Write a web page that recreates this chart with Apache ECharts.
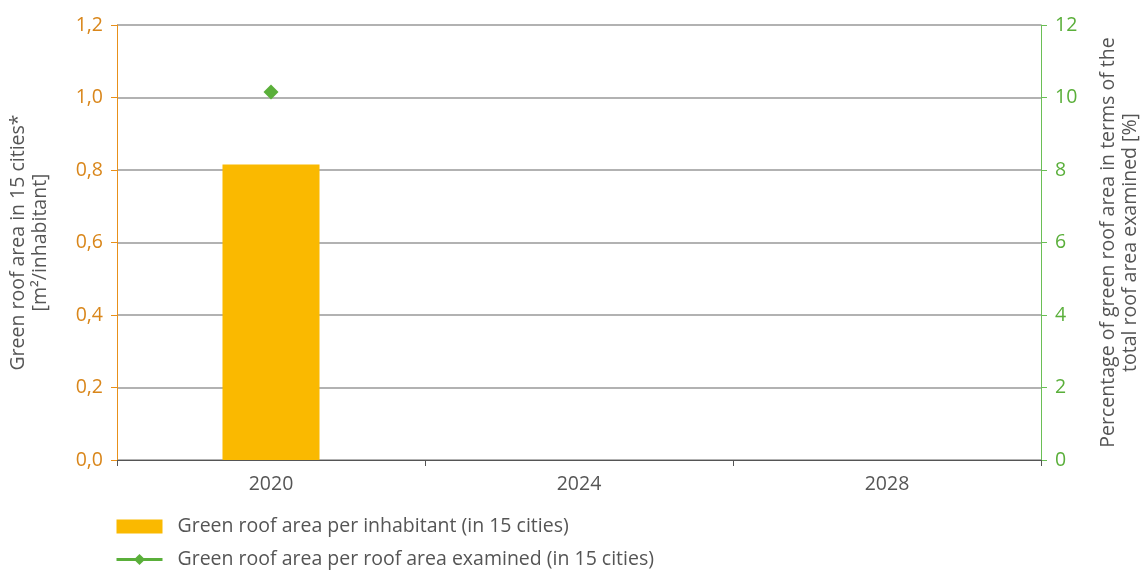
<!DOCTYPE html>
<html><head><meta charset="utf-8">
<script src="https://cdn.jsdelivr.net/npm/echarts@6/dist/echarts.min.js"></script>
<style>html,body{margin:0;padding:0;background:#fff}#c{width:1146px;height:572px}</style>
</head><body><div id="c"></div>
<script>
const categories = ['2020', '2024', '2028'];
const perInhabitant = [0.815, null, null];
const perRoofArea = [10.15, null, null];
const leftTicks = [0, 0.2, 0.4, 0.6, 0.8, 1.0, 1.2];
const rightTicks = [0, 2, 4, 6, 8, 10, 12];

const FONT = '"Open Sans", "Noto Sans", sans-serif';
const FS = 19.5;
const chart = echarts.init(document.getElementById('c'));
chart.setOption({
  animation: false,
  textStyle: { fontFamily: FONT },
  grid: { left: 117, right: 105, top: 25, bottom: 112, containLabel: false, outerBoundsMode: 'none' },
  legend: {
    orient: 'vertical', left: 115, top: 516, itemGap: 12, padding: 0,
    itemWidth: 46, itemHeight: 14,
    textStyle: { fontFamily: FONT, fontSize: FS, lineHeight: 21, color: '#555', padding: [0, 0, 0, 10] },
    data: [
      { name: 'Green roof area per inhabitant (in 15 cities)', icon: 'rect' },
      { name: 'Green roof area per roof area examined (in 15 cities)', lineStyle: { width: 3 } }
    ]
  },
  xAxis: {
    type: 'category', data: categories,
    axisLine: { lineStyle: { color: '#555', width: 1 } },
    axisTick: { show: true, length: 6, lineStyle: { color: '#555' } },
    axisLabel: { color: '#555', fontSize: FS, margin: 14, fontFamily: FONT }
  },
  yAxis: [
    {
      type: 'value', min: leftTicks[0], max: leftTicks[leftTicks.length - 1], interval: 0.2,
      name: 'Green roof area in 15 cities*\n[m²/inhabitant]',
      nameLocation: 'middle', nameRotate: 90, nameGap: 66,
      nameTextStyle: { color: '#555', fontSize: FS, lineHeight: 22, fontFamily: FONT },
      axisLine: { show: true, lineStyle: { color: '#e8901a', width: 1 } },
      axisTick: { show: true, length: 6, inside: false, lineStyle: { color: '#e8901a' } },
      axisLabel: { color: '#d9861a', fontSize: FS, margin: 14, fontFamily: FONT,
        formatter: v => v.toFixed(1).replace('.', ',') },
      splitLine: { lineStyle: { color: '#999', width: 1.5 } }
    },
    {
      type: 'value', min: rightTicks[0], max: rightTicks[rightTicks.length - 1], interval: 2,
      position: 'right',
      name: 'Percentage of green roof area in terms of the\ntotal roof area examined [%]',
      nameLocation: 'middle', nameRotate: 90, nameGap: 56,
      nameTextStyle: { color: '#555', fontSize: FS, lineHeight: 22, fontFamily: FONT },
      axisLine: { show: true, lineStyle: { color: '#6abf55', width: 1 } },
      axisTick: { show: true, length: 6, lineStyle: { color: '#6abf55' } },
      axisLabel: { color: '#5aaf3a', fontSize: FS, margin: 14, fontFamily: FONT },
      splitLine: { show: false }
    }
  ],
  series: [
    {
      name: 'Green roof area per inhabitant (in 15 cities)', type: 'bar', yAxisIndex: 0,
      data: perInhabitant, barWidth: '31.5%',
      itemStyle: { color: '#fab900' }
    },
    {
      name: 'Green roof area per roof area examined (in 15 cities)', type: 'line', yAxisIndex: 1,
      data: perRoofArea, symbol: 'diamond', symbolSize: 15, showSymbol: true,
      lineStyle: { color: '#5aaf3a', width: 3 },
      itemStyle: { color: '#5aaf3a' }
    }
  ]
});
</script></body></html>
